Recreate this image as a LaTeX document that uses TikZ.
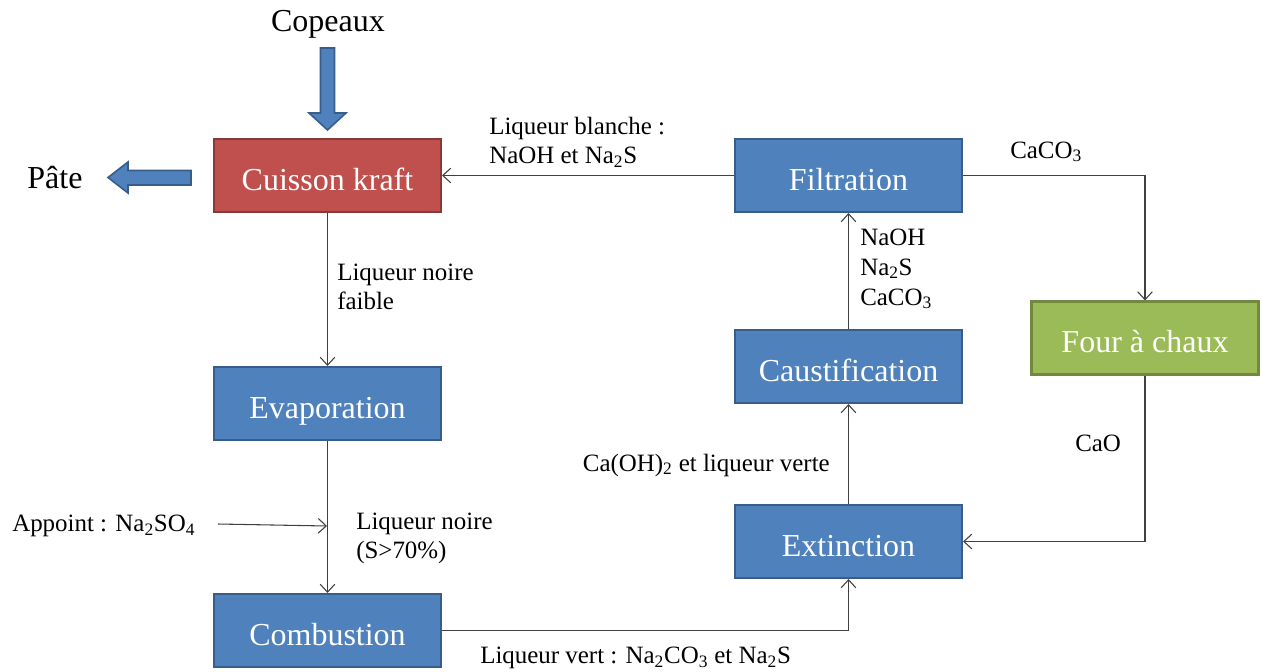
\documentclass[tikz,border=0pt]{standalone}
\usepackage{fontspec}
\setmainfont{Liberation Serif}
\usetikzlibrary{arrows.meta}
\definecolor{bfill}{HTML}{4F81BD}
\definecolor{bdraw}{HTML}{385D8A}
\definecolor{rfill}{HTML}{C0504D}
\definecolor{rdraw}{HTML}{8C3836}
\definecolor{gfill}{HTML}{9BBB59}
\definecolor{gdraw}{HTML}{71893F}
\definecolor{lin}{HTML}{404040}
\tikzset{
  procbox/.style={rectangle, draw=bdraw, fill=bfill, line width=1.8pt,
    minimum width=170pt, minimum height=54.5pt, inner sep=0pt,
    text=white, font=\fontsize{24}{28}\selectfont, text height=22pt, text depth=0pt},
  lbl/.style={inner sep=0pt, font=\fontsize{18.7}{21.75}\selectfont, align=left},
  flow/.style={draw=lin, line width=0.8pt, -{Straight Barb[length=6pt,width=11pt,line width=0.8pt]}},
  bigarrow/.style={draw=bdraw, fill=bfill, line width=1.2pt, line join=miter}
}
\begin{document}
\begin{tikzpicture}[x=0.75pt,y=-0.75pt]
\useasboundingbox (0,0) rectangle (1262,671);

% boxes
\node[procbox, fill=rfill, draw=rdraw] (cuis) at (327.5,175.5) {Cuisson kraft};
\node[procbox] (evap) at (327.5,403.5) {Evaporation};
\node[procbox] (comb) at (327.5,630.5) {Combustion};
\node[procbox] (filt) at (848.5,175.5) {Filtration};
\node[procbox] (caus) at (848.5,366.5) {Caustification};
\node[procbox] (ext) at (848.5,541.5) {Extinction};
\node[procbox, fill=gfill, draw=gdraw] (four) at (1145,338) {Four à chaux};

% texts
\node[inner sep=0pt, font=\fontsize{24}{28}\selectfont] (cop) at (328,24) {Copeaux};
\node[inner sep=0pt, font=\fontsize{24}{28}\selectfont] (pate) at (55,178) {Pâte};

% block arrows
\draw[bigarrow] (320.5,48) -- (334.5,48) -- (334.5,113) -- (346,113) -- (327.5,130) -- (309,113) -- (320.5,113) -- cycle;
\draw[bigarrow] (191,170.5) -- (191,185) -- (128,185) -- (128,193) -- (108,177.5) -- (128,162) -- (128,170.5) -- cycle;

% connectors
\draw[flow] (filt.west) -- (cuis.east);
\node[lbl, anchor=west] (lb) at (489,142.5) {Liqueur blanche :\\NaOH et Na\textsubscript{2}S};

\draw[flow] (filt.east) -| (four.north);
\node[lbl, anchor=west] (caco) at (1010,152) {CaCO\textsubscript{3}};

\draw[flow] (four.south) |- (ext.east);
\node[lbl, anchor=west] (cao) at (1075,443) {CaO};

\draw[flow] (ext.north) -- (caus.south);
\node[lbl, anchor=east] (caoh) at (830,465) {Ca(OH)\textsubscript{2} et liqueur verte};

\draw[flow] (caus.north) -- (filt.south);
\node[lbl, anchor=west, font=\fontsize{18.7}{22.5}\selectfont] (naoh) at (860,269) {NaOH\\Na\textsubscript{2}S\\CaCO\textsubscript{3}};

\draw[flow] (cuis.south) -- (evap.north);
\node[lbl, anchor=west] (ln) at (337,286.5) {Liqueur noire\\faible};

\draw[flow] (evap.south) -- (comb.north);
\node[lbl, anchor=west] (ln2) at (356,538.5) {Liqueur noire\\(S>70\%)};

\node[lbl, anchor=west] (app) at (12,526) {Appoint : Na\textsubscript{2}SO\textsubscript{4}};
\coordinate (apst) at (218,524);
\coordinate (apend) at (327,526);
\draw[flow] (apst) -- (apend);

\draw[flow] (comb.east) -| (ext.south);
\node[lbl, anchor=west] (lv) at (480,658) {Liqueur vert : Na\textsubscript{2}CO\textsubscript{3} et Na\textsubscript{2}S};
\end{tikzpicture}
\end{document}
